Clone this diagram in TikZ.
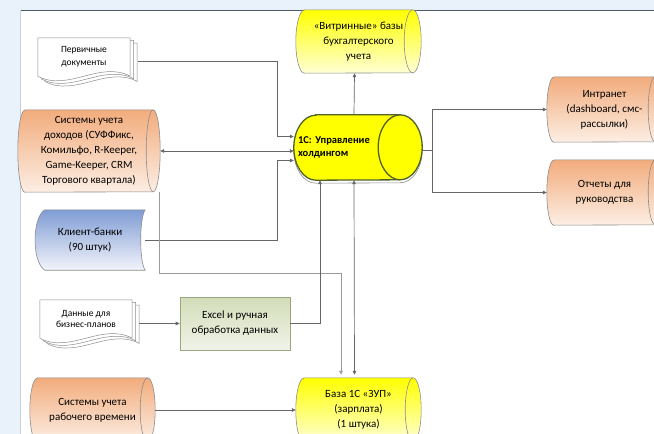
\documentclass[tikz,border=0pt]{standalone}
\usepackage{fontspec}
\setmainfont{Carlito}
\usetikzlibrary{arrows.meta, positioning, calc, backgrounds}

\definecolor{bgblue}{HTML}{E9F1FB}
\definecolor{panelline}{HTML}{4D5B6B}
\definecolor{linegray}{HTML}{666666}
\definecolor{lightgray}{HTML}{9A9A9A}
\definecolor{edgegray}{HTML}{8C8C8C}
\definecolor{holdedge}{HTML}{4F6228}
\definecolor{orangetop}{HTML}{F2AC7C}
\definecolor{orangebot}{HTML}{FCEEE4}
\definecolor{yellowtop}{HTML}{FFFF00}
\definecolor{yellowbot}{HTML}{FFFFD6}
\definecolor{bluetop}{HTML}{7F9CD4}
\definecolor{bluebot}{HTML}{F2F4FA}
\definecolor{greentop}{HTML}{D3DDB8}
\definecolor{greenbot}{HTML}{F0F3E8}
\definecolor{greenedge}{HTML}{9AA67E}

\pgfdeclarelayer{paper}
\pgfsetlayers{background,paper,main}

% outline of a lying drum round a node: node, x radius, y radius, drop
\newcommand{\drumoutline}[4]{%
  ($(#1.north west)+(#2,#4)$) -- ($(#1.north east)+(-#2,#4)$)
  arc[start angle=-90, end angle=90, x radius=#2, y radius=#3]
  -- ($(#1.south west)+(#2,#4)$)
  arc[start angle=90, end angle=270, x radius=#2, y radius=#3] -- cycle
}
% drum: node, x radius, y radius, fill style, edge style
\newcommand{\drum}[5]{%
  \path[#4, #5] \drumoutline{#1}{#2}{#3}{0};
  \draw[#5] ($(#1.north east)+(-#2,0)$) arc[start angle=270, end angle=90, x radius=#2, y radius=#3];
}
% stack of three pages behind a document node
\newcommand{\docpages}[1]{%
  \foreach \d in {7,3.5,0} {
    \filldraw[docpage]
      ($(#1.north west)+(\d,0.75*\d)$) -- ($(#1.north east)+(\d,0.75*\d)$)
      -- ($(#1.south east)+(\d,0.75*\d)$)
      .. controls ($(#1.south east)+(\d-30,0.75*\d-16)$) and ($(#1.south west)+(\d+30,0.75*\d+16)$)
      .. ($(#1.south west)+(\d,0.75*\d)$) -- cycle;
  }%
}

\begin{document}
\begin{tikzpicture}[
  x=1pt, y=-1pt,
  font=\fontsize{11}{15}\selectfont,
  drumnode/.style = {inner sep=0pt, align=center},
  orangefill/.style = {top color=orangetop, bottom color=orangebot},
  yellowfill/.style = {top color=yellowtop, bottom color=yellowbot},
  edge/.style = {draw=edgegray, line width=0.6pt},
  holdline/.style = {draw=holdedge, line width=1.3pt},
  holdbox/.style = {
    inner xsep=4pt,
    inner ysep=0pt,
    text width=120pt,
    minimum height=65pt,
    align=left,
    font=\fontsize{10.5}{13}\selectfont\bfseries
  },
  docnode/.style = {
    minimum width=92pt,
    minimum height=38pt,
    inner sep=0pt,
    align=center,
    font=\fontsize{9.5}{13}\selectfont
  },
  docpage/.style = {draw=edgegray, fill=white, line width=0.5pt},
  banknode/.style = {minimum width=110pt, minimum height=60pt, inner sep=0pt, align=center},
  excelbox/.style = {
    draw=greenedge,
    line width=0.6pt,
    top color=greentop,
    bottom color=greenbot,
    minimum width=110pt,
    minimum height=53pt,
    align=center
  },
  link/.style = {draw=linegray, line width=0.7pt},
  arrow/.style = {link, -{Triangle[length=4pt, width=3.5pt]}},
  twoway/.style = {link, {Triangle[length=4pt, width=3.5pt]}-{Triangle[length=4pt, width=3.5pt]}}
]
\useasboundingbox (0,0) rectangle (654,434);
\clip (0,0) rectangle (654,434);

% ---- panel ----
\begin{scope}[on background layer]
  \fill[bgblue] (0,0) rectangle (654,434);
  \fill[white] (20,10) rectangle (654,434);
  \draw[panelline, line width=0.8pt] (20,10) -- (654,10);
  \draw[bgblue!70!gray, line width=0.4pt] (20,10) -- (20,434);
\end{scope}

% ---- sources ----
\node[docnode] (prim) at (84,57) {Первичные\\документы};
\node[drumnode, minimum width=142pt, minimum height=82pt] (inc) at (89,151)
  {Системы учета\\доходов (СУФФикс,\\Комильфо, R-Keeper,\\Game-Keeper, CRM\\Торгового квартала)};
\node[banknode] (bank) at (90,240) {Клиент-банки\\(90 штук)};
\node[docnode, font=\fontsize{9.5}{11}\selectfont] (biz) at (86,319) {Данные для\\бизнес-планов};
\node[excelbox] (excel) at (235,323.5) {Excel и ручная\\обработка данных};
\node[drumnode, minimum width=125pt, minimum height=64pt] (work) at (92.5,410)
  {Системы учета\\рабочего времени};

% ---- bases ----
\node[holdbox] (hold) at (358,147.5) {1С: Управление\\холдингом};
\node[drumnode, minimum width=125pt, minimum height=63pt] (vitr) at (358.5,41.5)
  {«Витринные» базы\\бухгалтерского\\учета};
\node[drumnode, minimum width=125pt, minimum height=64pt] (zup) at (358.5,410)
  {База 1С «ЗУП»\\(зарплата)\\(1 штука)};

% ---- outputs ----
\node[drumnode, minimum width=115pt, minimum height=65pt] (intra) at (604.5,109.5)
  {Интранет\\(dashboard, смс-\\рассылки)};
\node[drumnode, minimum width=115pt, minimum height=65pt] (rep) at (604.5,192.5)
  {Отчеты для\\руководства};

% ---- shapes behind the texts ----
\begin{pgfonlayer}{paper}
  \docpages{prim}
  \docpages{biz}
  \path[edge, top color=bluetop, bottom color=bluebot]
    ($(bank.north west)+(10,0)$)
    .. controls ($(bank.north west)+(-3,8)$) and ($(bank.south west)+(-3,-8)$) .. ($(bank.south west)+(10,0)$)
    -- (bank.south east)
    .. controls ($(bank.south east)+(-6,-8)$) and ($(bank.north east)+(-6,8)$) .. (bank.north east)
    -- cycle;
  \drum{inc}{7}{41}{orangefill}{edge}
  \drum{work}{7.5}{32}{orangefill}{edge}
  \drum{intra}{7}{32.5}{orangefill}{edge}
  \drum{rep}{7}{32.5}{orangefill}{edge}
  \drum{vitr}{8.5}{31.5}{yellowfill}{edge}
  \drum{zup}{8}{32}{yellowfill}{edge}
  \path[edge, fill=white] \drumoutline{hold}{22}{32.5}{3};
  \drum{hold}{22}{32.5}{fill=yellowtop}{holdline}
\end{pgfonlayer}

% ---- connectors ----
\coordinate (bus) at ($(hold.west)+(-16,0)$);
\draw[arrow] ($(prim.east)+(8,4)$) -| ($(bus)+(0,-11)$) -- ($(hold.west)+(0,-11)$);
\draw[twoway] (inc.east) -- (inc.east -| hold.west);
\draw[arrow] (bank.east) -| ($(bus)+(0,13)$) -- ($(hold.west)+(0,13)$);
\draw[arrow, draw=lightgray] ($(inc.south east)+(-1,0)$) -- ++(0,81) -| ($(zup.north)+(-17.5,-3)$);
\draw[arrow] ($(biz.east |- excel.west)+(7,0)$) -- (excel.west);
\draw[arrow] (excel.east) -| ($(hold.south)+(-38,0)$);
\draw[twoway] ($(hold.south)+(-4,0)$) -- ($(zup.north)+(-4,-3)$);
\draw[arrow] ($(hold.north)+(-4,0)$) -- ($(vitr.south)+(-4,0)$);
\draw[link] ($(hold.east)+(0,3)$) -- ++(10,0) coordinate (split);
\draw[arrow] (split) |- (intra.west);
\draw[arrow] (split) |- (rep.west);
\draw[arrow] (work.east) -- (zup.west);

\end{tikzpicture}
\end{document}
